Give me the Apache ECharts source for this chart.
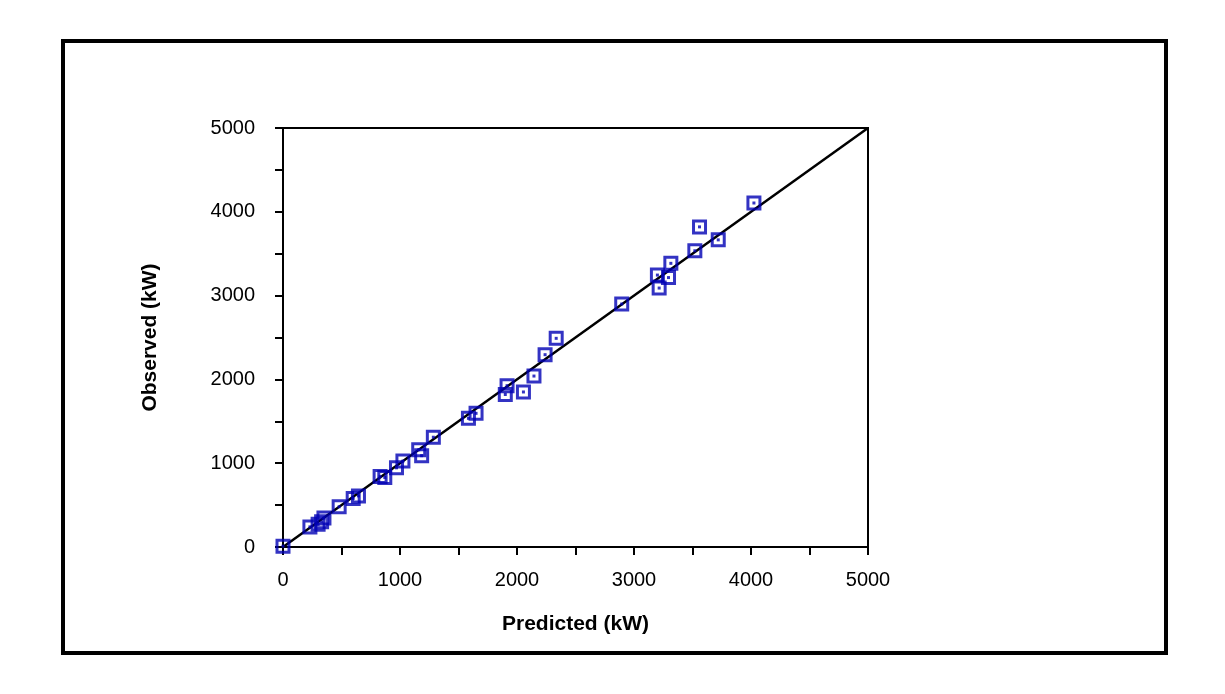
<!DOCTYPE html>
<html>
<head>
<meta charset="utf-8">
<script src="https://cdn.jsdelivr.net/npm/echarts@6/dist/echarts.min.js"></script>
<style>
  html, body { margin: 0; padding: 0; background: #fff; }
  #chart { width: 1225px; height: 694px; }
</style>
</head>
<body>
<div id="chart"></div>
<script>
// predicted vs observed power (kW)
var predicted = [0, 230, 300, 330, 350, 480, 600, 645, 830, 870, 970, 1025, 1185, 1160, 1285,
  1585, 1650, 1900, 1915, 2055, 2145, 2240, 2335, 2895, 3215, 3200, 3295, 3315, 3520, 3560, 3720, 4025];
var observed = [10, 240, 270, 300, 345, 480, 580, 610, 840, 830, 945, 1025, 1090, 1160, 1310,
  1535, 1595, 1820, 1925, 1850, 2040, 2295, 2490, 2900, 3090, 3245, 3215, 3385, 3535, 3820, 3665, 4105];
var diagLine = [0, 5000];

var points = predicted.map(function (p, i) { return [p, observed[i]]; });
var blue = "#0000b4";
var font = "Liberation Sans, Arial, sans-serif";

var chart = echarts.init(document.getElementById("chart"));

function axisCommon(nameGap, labelMargin) {
  return {
    type: "value",
    min: 0,
    max: 5000,
    interval: 500,
    nameLocation: "middle",
    nameGap: nameGap,
    nameTextStyle: { fontFamily: font, fontSize: 21, fontWeight: "bold", color: "#000" },
    axisLine: { show: true, lineStyle: { color: "#000", width: 2 } },
    axisTick: { show: true, inside: false, length: 8, lineStyle: { color: "#000", width: 2 } },
    axisLabel: {
      margin: labelMargin,
      fontFamily: font,
      fontSize: 20,
      color: "#000",
      formatter: function (v) { return v % 1000 === 0 ? String(v) : ""; },
    },
    splitLine: { show: false },
  };
}

var xAxis = axisCommon(67, 23);
xAxis.name = "Predicted (kW)";
var yAxis = axisCommon(122, 28);
yAxis.name = "Observed (kW)";

var option = {
  backgroundColor: "#fff",
  animation: false,
  grid: {
    left: 283,
    right: 357,
    top: 128,
    bottom: 147,
    show: true,
    borderColor: "#000",
    borderWidth: 2,
    backgroundColor: "transparent",
  },
  xAxis: xAxis,
  yAxis: yAxis,
  graphic: [
    {
      type: "rect",
      shape: { x: 63, y: 41, width: 1103, height: 612 },
      style: { fill: "none", stroke: "#000", lineWidth: 4 },
      silent: true,
    },
  ],
  series: [
    {
      type: "line",
      data: [[diagLine[0], diagLine[0]], [diagLine[1], diagLine[1]]],
      symbol: "none",
      lineStyle: { color: "#000", width: 2.5 },
      z: 2,
    },
    {
      type: "scatter",
      data: points,
      symbol: "rect",
      symbolSize: 12,
      itemStyle: { color: "rgba(255,255,255,0)", borderColor: blue, borderWidth: 3 },
      z: 3,
    },
    {
      type: "scatter",
      data: points,
      symbol: "rect",
      symbolSize: 3,
      itemStyle: { color: blue },
      z: 4,
    },
  ],
};

chart.setOption(option);
</script>
</body>
</html>
